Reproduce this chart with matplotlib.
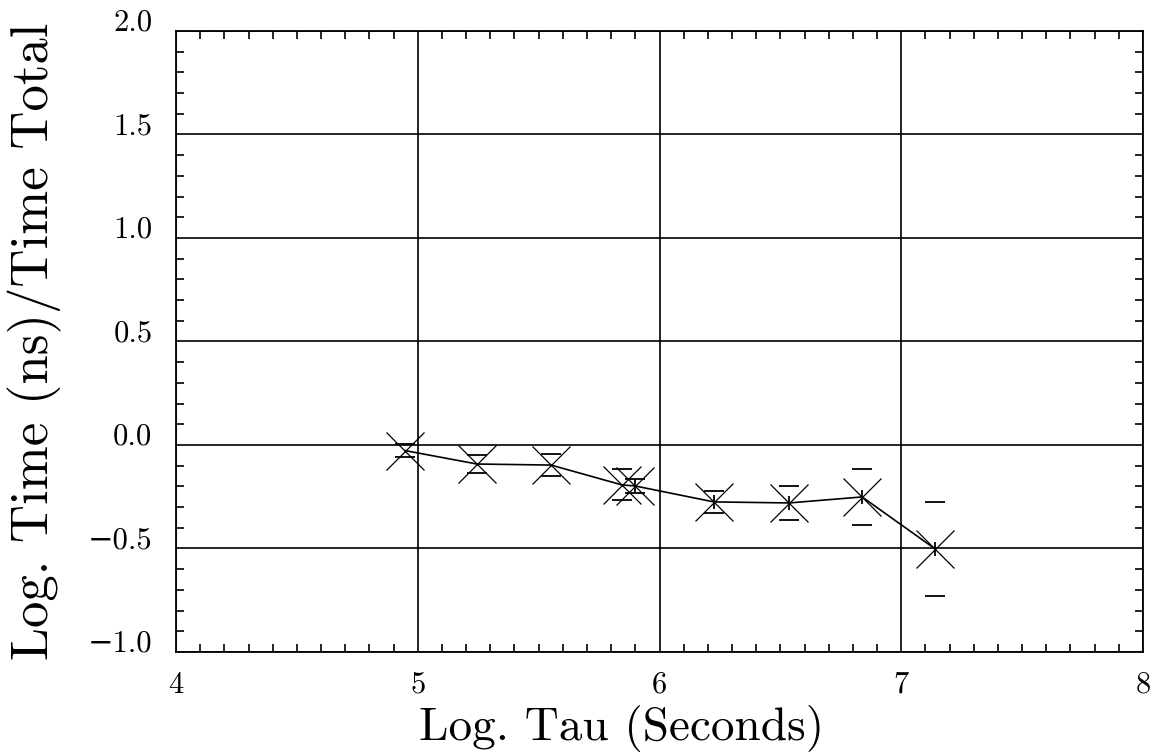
import matplotlib
matplotlib.use('Agg')
import matplotlib.pyplot as plt
from matplotlib.ticker import MultipleLocator

# log tau vs log time fraction, with symmetric error bars
log_tau = [4.947, 5.245, 5.551, 5.845, 5.899, 6.225, 6.536, 6.838, 7.140]
log_time = [-0.027, -0.092, -0.097, -0.193, -0.198, -0.275, -0.280, -0.251, -0.502]
err = [0.033, 0.043, 0.053, 0.075, 0.036, 0.053, 0.082, 0.135, 0.227]
# points drawn with the extra vertical stroke in the marker
star_idx = [4, 5, 6, 7, 8]

x_ticks = [4, 5, 6, 7, 8]
y_ticks = [-1.0, -0.5, 0.0, 0.5, 1.0, 1.5, 2.0]

plt.rcParams['font.family'] = ['cmr10', 'DejaVu Serif']
plt.rcParams['axes.formatter.use_mathtext'] = True

fig = plt.figure(figsize=(11.52, 7.56), dpi=100)
ax = fig.add_axes([0.1528, 0.1376, 0.8394, 0.8214])

ax.grid(True, which='major', color='black', linewidth=1.2)
ax.set_axisbelow(True)

ax.plot(log_tau, log_time, color='black', linewidth=1.2, zorder=3)
ax.errorbar(log_tau, log_time, yerr=err, fmt='none', ecolor='black',
            elinewidth=0, capsize=7, capthick=1.3, zorder=3)
ax.plot(log_tau, log_time, linestyle='none', marker='x', markersize=27,
        markeredgewidth=0.9, color='black', zorder=4)
ax.plot([log_tau[i] for i in star_idx], [log_time[i] for i in star_idx],
        linestyle='none', marker='|', markersize=10, markeredgewidth=1.3,
        color='black', zorder=4)

ax.set_xlim(4, 8)
ax.set_ylim(-1.0, 2.0)
ax.set_xticks(x_ticks)
ax.set_xticklabels([str(v) for v in x_ticks])
ax.set_yticks(y_ticks)
ax.set_yticklabels([f'{v:.1f}'.replace('-', '\u2212') for v in y_ticks],
                   va='baseline')
ax.xaxis.set_minor_locator(MultipleLocator(0.1))
ax.yaxis.set_minor_locator(MultipleLocator(0.1))

ax.tick_params(which='both', direction='in', top=True, right=True,
               color='black', width=1.2)
ax.tick_params(which='major', length=0, labelsize=22)
ax.tick_params(axis='x', which='major', pad=14)
ax.tick_params(axis='y', which='major', pad=17)
ax.tick_params(which='minor', length=6)
for s in ax.spines.values():
    s.set_linewidth(1.3)

ax.set_xlabel('Log. Tau (Seconds)', fontsize=34)
ax.set_ylabel('Log. Time (ns)/Time Total', fontsize=38)
ax.xaxis.set_label_coords(0.461, -0.085)
ax.yaxis.set_label_coords(-0.118, 0.5)

fig.savefig('out.png', dpi=100)
